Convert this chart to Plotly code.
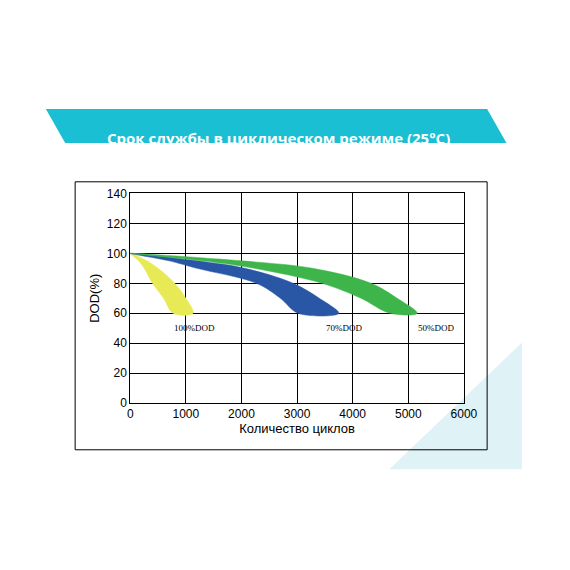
import plotly.graph_objects as go

# DOD levels and band edges (cycles)
dod = [100, 95, 90, 80, 70, 60]
yellow_inner = [0, 150, 250, 400, 600, 770]
yellow_outer = [0, 300, 500, 800, 1000, 1130]
blue_inner = [0, 700, 1200, 2270, 2700, 3020]
blue_outer = [0, 1200, 2060, 2930, 3400, 3750]
green_inner = [0, 1300, 2230, 3450, 4150, 4670]
green_outer = [0, 2000, 3280, 4330, 4800, 5160]

bands = [(yellow_inner, yellow_outer, "#e8ea55"),
         (blue_inner, blue_outer, "#2a56a6"),
         (green_inner, green_outer, "#3db54a")]

labels = ["100%DOD", "70%DOD", "50%DOD"]
label_x = [1150, 3850, 5500]

d = 0.016  # page offset correction

fig = go.Figure()
for inner, outer, col in bands:
    fig.add_trace(go.Scatter(x=inner + outer[::-1], y=dod + dod[::-1], fill="toself",
                             fillcolor=col, line=dict(color=col, width=0.5, shape="spline"),
                             mode="lines", hoverinfo="skip"))
for t, x in zip(labels, label_x):
    fig.add_annotation(x=x, y=50, text=t, showarrow=False, xanchor="center",
                       font=dict(family="Liberation Serif", size=9, color="black"))

fig.update_layout(
    width=570, height=570, margin=dict(l=0, r=0, t=0, b=0), showlegend=False,
    plot_bgcolor="white", paper_bgcolor="white",
    font=dict(family="Liberation Sans", color="black", size=12),
    xaxis=dict(domain=[0.2316 - d, 0.835 - d], range=[0, 6000], dtick=1000, showgrid=True,
               gridcolor="black", gridwidth=1, showline=True, linecolor="black",
               mirror=True, zeroline=False, ticks="",
               title=dict(text="Количество циклов", standoff=2, font=dict(size=13))),
    yaxis=dict(domain=[0.286 + d, 0.663 + d], range=[0, 140], dtick=20, showgrid=True,
               gridcolor="black", gridwidth=1, showline=True, linecolor="black",
               mirror=True, zeroline=False, ticks="",
               title=dict(text="DOD(%)", standoff=4, font=dict(size=13))),
    shapes=[
        dict(type="path", xref="paper", yref="paper",
             path=f"M {0.70-d},{0.167+d} L {0.94-d},{0.167+d} L {0.94-d},{0.395+d} Z",
             fillcolor="#dff3f7", line=dict(width=0), layer="below"),
        dict(type="rect", xref="paper", yref="paper", x0=0.132 - d, x1=0.877 - d,
             y0=0.202 + d, y1=0.684 + d, line=dict(color="black", width=1)),
        dict(type="path", xref="paper", yref="paper",
             path=f"M {0.114-d},{0.754+d} L {0.912-d},{0.754+d} L {0.877-d},{0.815+d} L {0.079-d},{0.815+d} Z",
             fillcolor="#1bbfd3", line=dict(width=0)),
    ],
    annotations=list(fig.layout.annotations) + [
        dict(xref="paper", yref="paper", x=0.5 - d, y=0.785 + d, showarrow=False,
             text="<b>Срок службы в циклическом режиме (25°C)</b>",
             font=dict(family="Open Sans", size=15, color="white")),
    ],
)
fig.write_html("out.html")
